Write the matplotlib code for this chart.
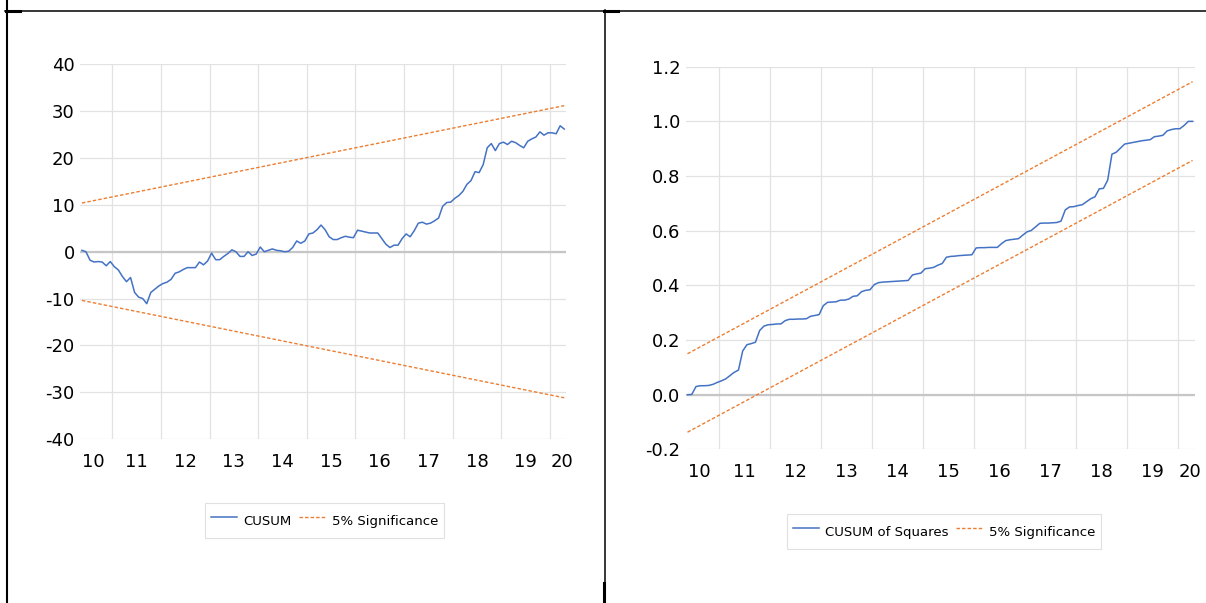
import matplotlib
matplotlib.use("Agg")
import matplotlib.pyplot as plt
from matplotlib.lines import Line2D

# monthly observations, May 2010 .. Apr 2020
start_year = 2010
start_month = 5
n_obs = 120

cusum = [0.3, 0.0, -1.8, -2.2, -2.1, -2.2, -3.0, -2.1, -3.2, -3.9,
         -5.3, -6.4, -5.5, -8.7, -9.7, -10.0, -11.1, -8.7, -8.0, -7.3,
         -6.8, -6.5, -5.9, -4.6, -4.3, -3.8, -3.4, -3.4, -3.4, -2.2,
         -2.8, -2.0, -0.3, -1.7, -1.7, -1.0, -0.4, 0.4, 0.0, -1.0,
         -1.0, 0.0, -0.8, -0.5, 1.0, 0.0, 0.3, 0.6, 0.3, 0.2,
         0.0, 0.1, 0.9, 2.3, 1.8, 2.3, 3.8, 4.0, 4.7, 5.7,
         4.7, 3.2, 2.6, 2.6, 3.0, 3.3, 3.1, 3.0, 4.6, 4.4,
         4.2, 4.0, 4.0, 4.0, 2.8, 1.6, 0.9, 1.4, 1.4, 2.8,
         3.8, 3.2, 4.5, 6.1, 6.3, 5.9, 6.1, 6.6, 7.2, 9.7,
         10.5, 10.6, 11.4, 12.0, 12.9, 14.4, 15.2, 17.1, 16.9, 18.6,
         22.2, 23.1, 21.6, 23.1, 23.4, 22.9, 23.6, 23.3, 22.7, 22.2,
         23.6, 24.1, 24.5, 25.6, 24.9, 25.4, 25.4, 25.2, 26.9, 26.2]

cusum_sq = [0.000, 0.001, 0.030, 0.033, 0.033, 0.034, 0.038, 0.045, 0.051, 0.058,
            0.070, 0.082, 0.090, 0.160, 0.183, 0.187, 0.192, 0.235, 0.251, 0.256,
            0.257, 0.259, 0.259, 0.271, 0.276, 0.276, 0.277, 0.277, 0.278, 0.287,
            0.290, 0.293, 0.326, 0.338, 0.339, 0.340, 0.346, 0.346, 0.350, 0.360,
            0.362, 0.377, 0.382, 0.384, 0.403, 0.410, 0.412, 0.413, 0.414, 0.415,
            0.416, 0.417, 0.418, 0.438, 0.442, 0.445, 0.461, 0.463, 0.466, 0.474,
            0.480, 0.503, 0.506, 0.507, 0.509, 0.510, 0.511, 0.512, 0.537, 0.538,
            0.538, 0.539, 0.539, 0.539, 0.553, 0.564, 0.567, 0.569, 0.571, 0.584,
            0.596, 0.601, 0.614, 0.627, 0.628, 0.628, 0.629, 0.630, 0.635, 0.676,
            0.687, 0.688, 0.692, 0.695, 0.706, 0.717, 0.724, 0.753, 0.755, 0.785,
            0.880, 0.887, 0.902, 0.917, 0.920, 0.923, 0.926, 0.929, 0.931, 0.933,
            0.944, 0.946, 0.949, 0.965, 0.970, 0.973, 0.973, 0.985, 1.000, 1.000]

# 5% bands (first and last observation)
cusum_upper = [10.4, 31.2]
cusum_lower = [-10.4, -31.2]
cusumsq_upper = [0.150, 1.145]
cusumsq_lower = [-0.137, 0.857]

year_labels = ["10", "11", "12", "13", "14", "15", "16", "17", "18", "19", "20"]
label_pos = [2010.6, 2011.5, 2012.5, 2013.5, 2014.5, 2015.5, 2016.5,
             2017.5, 2018.5, 2019.5, 2020.24]

BLUE = "#4472C4"
ORANGE = "#ED7D31"

plt.rcParams["font.family"] = ["DejaVu Sans Condensed", "DejaVu Sans"]

t = [start_year + (start_month - 0.5 + i) / 12 for i in range(n_obs)]
t_ends = [t[0], t[-1]]


def excel_axes(ax, ylim, yticks, yfmt):
    ax.set_xlim(2010.34, 2020.335)
    ax.set_ylim(*ylim)
    for s in ax.spines.values():
        s.set_visible(False)
    ax.set_yticks(yticks)
    ax.set_yticklabels([yfmt.format(v) for v in yticks])
    ax.set_xticks(label_pos)
    ax.set_xticklabels(year_labels)
    ax.tick_params(length=0, labelsize=13, colors="black")
    ax.tick_params(axis="x", pad=10)
    ax.tick_params(axis="y", pad=4)
    for v in yticks:
        ax.axhline(v, color="#e2e2e2", lw=0.9, zorder=0)
    for yr in range(2011, 2021):
        ax.axvline(yr, color="#e2e2e2", lw=0.9, zorder=0)
    ax.axhline(0, color="#c6c6c6", lw=1.6, zorder=1)


def excel_legend(ax, center):
    leg = ax.legend(loc="center", bbox_to_anchor=center,
                    bbox_transform=fig.transFigure, ncol=2, fontsize=9.5,
                    frameon=True, fancybox=False, edgecolor="#d9d9d9",
                    handlelength=2.0, handleheight=2.3, handletextpad=0.45,
                    columnspacing=0.6, borderpad=0.45, borderaxespad=0)
    leg.get_frame().set_linewidth(0.8)
    return leg


fig = plt.figure(figsize=(12.06, 6.03), dpi=100)

ax1 = fig.add_axes([0.0665, 0.2720, 0.4031, 0.6211])
excel_axes(ax1, (-40, 40), list(range(-40, 41, 10)), "{:.0f}")
ax1.plot(t, cusum, color=BLUE, lw=1.1, label="CUSUM", zorder=3)
ax1.plot(t_ends, cusum_upper, color=ORANGE, lw=1.0, dashes=(2.5, 1.5),
         label="5% Significance", zorder=2)
ax1.plot(t_ends, cusum_lower, color=ORANGE, lw=1.0, dashes=(2.5, 1.5), zorder=2)
excel_legend(ax1, (0.2691, 0.1362))

ax2 = fig.add_axes([0.5686, 0.2547, 0.4221, 0.6347])
sq_ticks = [-0.2, 0.0, 0.2, 0.4, 0.6, 0.8, 1.0, 1.2]
excel_axes(ax2, (-0.2, 1.2), sq_ticks, "{:.1f}")
ax2.plot(t, cusum_sq, color=BLUE, lw=1.1, label="CUSUM of Squares", zorder=3)
ax2.plot(t_ends, cusumsq_upper, color=ORANGE, lw=1.0, dashes=(2.5, 1.5),
         label="5% Significance", zorder=2)
ax2.plot(t_ends, cusumsq_lower, color=ORANGE, lw=1.0, dashes=(2.5, 1.5), zorder=2)
excel_legend(ax2, (0.7826, 0.1181))


# table cell borders around the two charts (pixel coords)
def border(x0, y0, x1, y1, lw):
    W, H = 1206.0, 603.0
    fig.add_artist(Line2D([x0 / W, x1 / W], [1 - y0 / H, 1 - y1 / H],
                          color="black", lw=lw, transform=fig.transFigure))


border(5, 10.5, 1206, 10.5, 1.1)
border(6.5, 0, 6.5, 603, 1.5)
border(6, 11, 20, 11, 2.2)
border(605, 10, 605, 583, 1.1)
border(604, 583, 604, 603, 2.2)
border(604, 11, 618, 11, 2.2)

fig.savefig("out.png", dpi=100)
